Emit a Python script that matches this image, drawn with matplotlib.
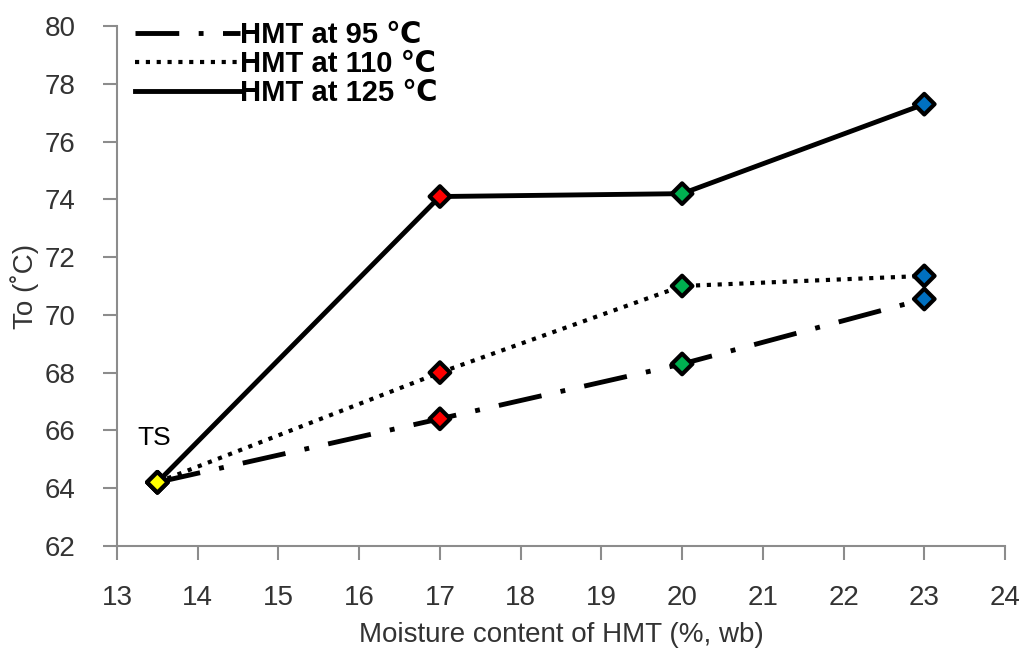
import numpy as np
import matplotlib
matplotlib.use('Agg')
import matplotlib.pyplot as plt

plt.rcParams['font.family'] = ['Liberation Sans', 'DejaVu Sans']

# data
x_ts = 13.5
y_ts = 64.2
moisture = [17, 20, 23]
hmt95 = [66.4, 68.3, 70.55]
hmt110 = [68.0, 71.0, 71.35]
hmt125 = [74.1, 74.2, 77.3]
point_colors = ['#FFFF00', '#FF0000', '#00B050', '#0070C0']
labels = ['HMT at 95 \u2103', 'HMT at 110 \u2103', 'HMT at 125 \u2103']

fig = plt.figure(figsize=(10.23, 6.56), dpi=100)
ax = fig.add_axes([0.1144, 0.168, 0.868, 0.792])

xs = [x_ts] + moisture
series = [
    ([y_ts] + hmt95, (0, (9, 4, 1, 4)), 3.5),
    ([y_ts] + hmt110, (0, (1, 1.6)), 3.0),
    ([y_ts] + hmt125, '-', 3.5),
]
handles = []
for (ys, ls, lw), lab in zip(series, labels):
    h, = ax.plot(xs, ys, color='black', linestyle=ls, linewidth=lw, label=lab)
    handles.append(h)
    ax.scatter(xs, ys, marker='D', s=110, c=point_colors, edgecolors='black',
               linewidths=3, zorder=3)

ax.text(13.25, 65.5, 'TS', fontsize=19, color='black')

ax.set_xlim(13, 24)
ax.set_ylim(62, 80)
ax.set_xticks(np.arange(13, 25, 1))
ax.set_yticks(np.arange(62, 81, 2))
for s in ['top', 'right']:
    ax.spines[s].set_visible(False)
for s in ['left', 'bottom']:
    ax.spines[s].set_color('#8c8c8c')
    ax.spines[s].set_linewidth(1.5)
ax.tick_params(axis='both', colors='#8c8c8c', width=1.5, length=10,
               labelsize=20, labelcolor='#333333')
ax.tick_params(axis='x', pad=18)
ax.tick_params(axis='y', pad=20)

ax.set_xlabel('Moisture content of HMT (%, wb)', fontsize=20, color='#333333', labelpad=8)
ax.set_ylabel('To (\u02daC)', fontsize=20, color='#333333', labelpad=4)

leg = ax.legend(handles=handles, loc='upper left', bbox_to_anchor=(0.121, 0.986),
                bbox_transform=fig.transFigure, frameon=False, handlelength=3.6,
                handletextpad=0.0, labelspacing=0.04, borderaxespad=0,
                prop={'weight': 'bold', 'size': 21})

fig.savefig('out.png', dpi=100)
